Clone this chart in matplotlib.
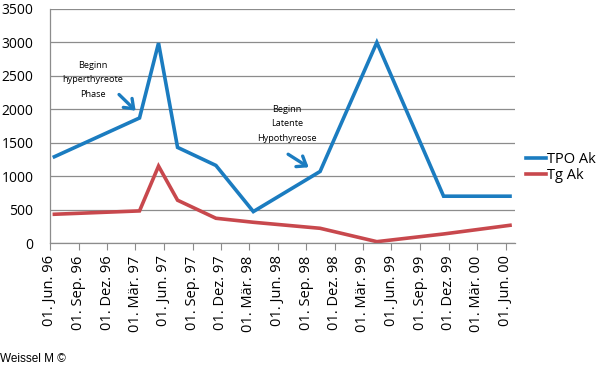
import datetime as dt

import matplotlib
matplotlib.use("Agg")
import matplotlib.dates as mdates
import matplotlib.pyplot as plt

dates = [dt.date(1996, 6, 15), dt.date(1997, 3, 15), dt.date(1997, 5, 15), dt.date(1997, 7, 15),
         dt.date(1997, 11, 15), dt.date(1998, 3, 15), dt.date(1998, 10, 15), dt.date(1999, 4, 15),
         dt.date(1999, 11, 15), dt.date(2000, 6, 15)]
tpoAk = [1290, 1870, 2990, 1430, 1160, 470, 1070, 3000, 700, 700]
tgAk = [430, 480, 1150, 640, 370, 310, 220, 20, 135, 265]

tickDates = [dt.date(1996 + (5 + 3 * i) // 12, (5 + 3 * i) % 12 + 1, 1) for i in range(17)]
monthNames = {3: "Mär.", 6: "Jun.", 9: "Sep.", 12: "Dez."}
tickLabels = ["01. %s %02d" % (monthNames[d.month], d.year % 100) for d in tickDates]

blue = "#1b7cc0"
red = "#c8484d"
grey = "#8c8c8c"

plt.rcParams["font.family"] = ["Open Sans", "DejaVu Sans"]

fig = plt.figure(figsize=(6.0, 3.92), dpi=100)
ax = fig.add_axes([50 / 600, 1 - 243 / 392, 465 / 600, 234 / 392])

ax.plot(dates, tpoAk, color=blue, lw=2.6, label="TPO Ak", solid_joinstyle="miter")
ax.plot(dates, tgAk, color=red, lw=2.6, label="Tg Ak", solid_joinstyle="miter")

ax.set_xlim(mdates.date2num(dt.date(1996, 6, 1)), mdates.date2num(dt.date(2000, 7, 1)))
ax.set_ylim(0, 3500)
ax.set_yticks(range(0, 3501, 500))
ax.set_xticks(mdates.date2num(tickDates))
ax.set_xticklabels(tickLabels, rotation=90, fontsize=10.5)
ax.tick_params(axis="y", length=0, labelsize=10, pad=12)
ax.tick_params(axis="x", length=5, color=grey, direction="out", pad=4)
ax.yaxis.grid(True, color=grey, lw=0.9)
ax.set_axisbelow(True)
for side in ["top", "right"]:
    ax.spines[side].set_visible(False)
for side in ["left", "bottom"]:
    ax.spines[side].set_color(grey)
    ax.spines[side].set_linewidth(0.9)

# annotations
ax.text(mdates.date2num(dt.date(1996, 10, 17)), 2440, "Beginn\nhyperthyreote\nPhase",
        ha="center", va="center", fontsize=6.6, linespacing=1.75)
ax.annotate("", xy=(mdates.date2num(dt.date(1997, 3, 9)), 1950),
            xytext=(mdates.date2num(dt.date(1997, 1, 2)), 2250),
            arrowprops=dict(arrowstyle="->,head_length=0.6,head_width=0.45", color=blue, lw=2.4))
ax.text(mdates.date2num(dt.date(1998, 6, 30)), 1780, "Beginn\nLatente\nHypothyreose",
        ha="center", va="center", fontsize=6.6, linespacing=1.75)
ax.annotate("", xy=(mdates.date2num(dt.date(1998, 9, 16)), 1110),
            xytext=(mdates.date2num(dt.date(1998, 6, 27)), 1350),
            arrowprops=dict(arrowstyle="->,head_length=0.6,head_width=0.45", color=blue, lw=2.4))

fig.legend(*ax.get_legend_handles_labels(), loc="center left",
           bbox_to_anchor=(526 / 600, 1 - 167.5 / 392), frameon=False, fontsize=10.5,
           handlelength=1.35, handletextpad=0.1, labelspacing=0.05, borderaxespad=0, borderpad=0)

fig.text(0.0, 1 - 359 / 392, "Weissel M \u00a9", fontsize=8.5, family="Liberation Sans",
         va="center", ha="left")

fig.savefig("out.png", dpi=100)
